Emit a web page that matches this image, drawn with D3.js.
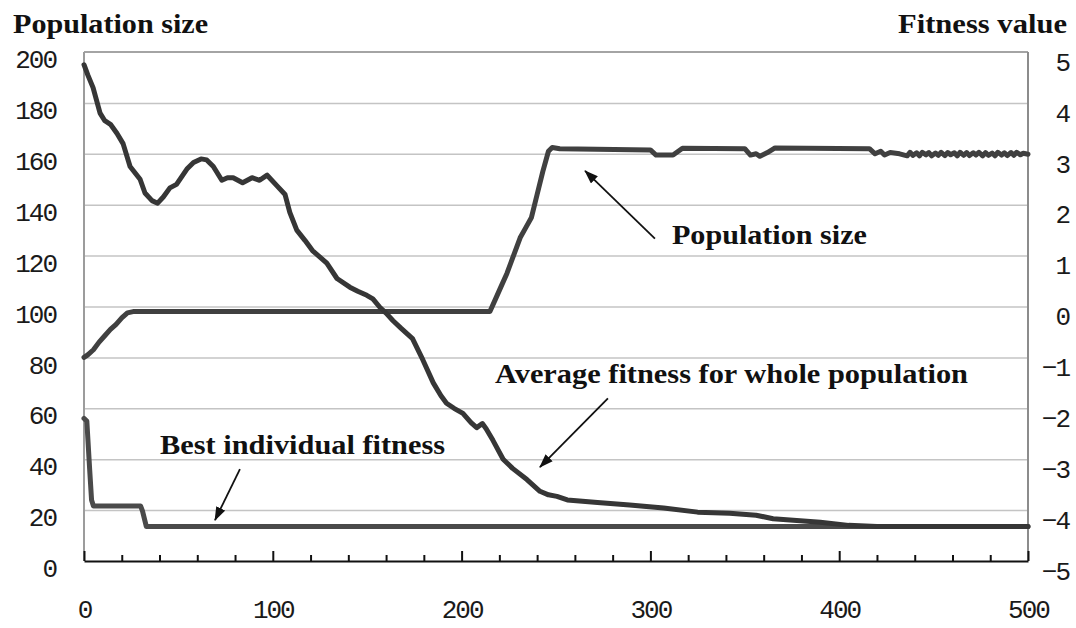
<!DOCTYPE html>
<html>
<head>
<meta charset="utf-8">
<script src="https://cdn.jsdelivr.net/npm/d3@7"></script>
<style>
  body { margin: 0; background: #fff; }
  svg { display: block; }
  .tick-label { font-family: "Liberation Mono", monospace; font-size: 26px; fill: #1a1a1a; letter-spacing: -2px; }
  .bold-label { font-family: "Liberation Serif", serif; font-weight: bold; font-size: 28px; fill: #111; }
</style>
</head>
<body>
<script>
// tick labels
var xTicks = [0, 100, 200, 300, 400, 500];
var xMinorTicks = [20, 40, 60, 80, 120, 140, 160, 180, 220, 240, 260, 280, 320, 340, 360, 380, 420, 440, 460, 480];
var leftTicks = [0, 20, 40, 60, 80, 100, 120, 140, 160, 180, 200];
var rightTicks = [-5, -4, -3, -2, -1, 0, 1, 2, 3, 4, 5];

// population size (left axis)
var popGen = [0, 2, 5, 8, 11, 14, 17, 20, 23, 26, 215, 218, 221, 224, 228, 231, 234, 237, 240, 243, 246, 248, 252, 300, 303, 312, 317, 350, 353, 356, 358, 362, 366, 416, 419, 422, 424, 427, 432,
  436, 437.5, 439, 441, 442.5, 444, 446, 447.5, 449, 451, 452.5, 454, 456, 457.5, 459, 461, 462.5, 464, 466, 467.5, 469, 471, 472.5, 474, 476, 477.5, 479, 481, 482.5, 484, 486, 487.5, 489, 491, 492.5, 494, 496, 497.5, 500];
var popSize = [80, 81, 83, 86, 88.5, 91, 93, 95.5, 97.5, 98, 98, 103, 108, 113, 121, 127, 131, 135, 144, 153, 161, 162.5, 162, 161.5, 159.5, 159.5, 162.2, 162, 159.5, 160, 159, 160.5, 162.3, 162, 160, 161, 159.5, 160.5, 160,
  159.2, 160.6, 159.4, 160.4, 159.2, 160.6, 159.6, 160.5, 159.2, 160.3, 159.4, 160.6, 159.3, 160.5, 159.6, 160.4, 159.2, 160.6, 159.4, 160.5, 159.3, 160.4, 159.5, 160.6, 159.2, 160.5, 159.4, 160.3, 159.2, 160.6, 159.5, 160.4, 159.3, 160.5, 159.4, 160.6, 159.6, 160.2, 159.8];

// average fitness for whole population (right axis)
var avgGen = [0, 2, 4.8, 8.5, 11, 14, 17.5, 20.7, 24.4, 29.7, 32.3, 36, 39, 42, 45.5, 49, 54.5, 58, 62, 65, 68.5, 73, 76, 79, 84, 89, 93, 97, 102, 106.5, 109, 112.7, 117, 121, 128.6, 134, 140.8, 145, 149.8, 153, 156.8, 160, 163.7, 168, 174, 179.5, 185, 189, 192, 196, 200.7, 205, 208, 211, 213, 216.6, 222, 227, 234.6, 241.5, 246, 250.5, 256, 272, 289, 307, 325, 342, 356, 365, 390, 405, 420, 500];
var avgFit = [4.75, 4.55, 4.30, 3.80, 3.65, 3.58, 3.40, 3.20, 2.75, 2.50, 2.23, 2.08, 2.03, 2.15, 2.33, 2.40, 2.70, 2.83, 2.90, 2.88, 2.75, 2.48, 2.53, 2.53, 2.43, 2.53, 2.48, 2.58, 2.38, 2.20, 1.85, 1.50, 1.30, 1.10, 0.85, 0.55, 0.38, 0.30, 0.22, 0.15, -0.02, -0.13, -0.28, -0.43, -0.63, -1.05, -1.50, -1.75, -1.90, -2.00, -2.10, -2.28, -2.38, -2.30, -2.40, -2.63, -3.00, -3.18, -3.40, -3.63, -3.70, -3.73, -3.80, -3.85, -3.90, -3.96, -4.04, -4.06, -4.10, -4.17, -4.24, -4.30, -4.32, -4.32];

// best individual fitness (right axis)
var bestGen = [0, 1.5, 3, 4, 5, 30, 31, 33, 500];
var bestFit = [-2.2, -2.25, -3.2, -3.8, -3.92, -3.92, -4.02, -4.32, -4.32];

var W = 1076, H = 628;
var plotL = 84, plotR = 1028, plotT = 52, plotB = 561;

var svg = d3.select('body').append('svg').attr('width', W).attr('height', H);
svg.append('rect').attr('width', W).attr('height', H).attr('fill', '#fff');

var x = d3.scaleLinear().domain([0, 500]).range([plotL, plotR]);
var yL = d3.scaleLinear().domain([0, 200]).range([plotB, plotT]);
var yR = d3.scaleLinear().domain([-5, 5]).range([plotB, plotT]);

// grid lines
svg.append('g')
  .attr('transform', 'translate(' + plotL + ',0)')
  .call(d3.axisLeft(yL).tickValues(leftTicks.slice(1, -1)).tickSize(-(plotR - plotL)).tickFormat(''))
  .call(function (g) {
    g.select('.domain').remove();
    g.selectAll('line').attr('stroke', '#c4c4c4').attr('stroke-width', 1.5);
  });

// frame
svg.append('line').attr('x1', plotL).attr('x2', plotR).attr('y1', plotT).attr('y2', plotT).attr('stroke', '#a4a4a4').attr('stroke-width', 2);
svg.append('line').attr('x1', plotR).attr('x2', plotR).attr('y1', plotT).attr('y2', plotB).attr('stroke', '#8c8c8c').attr('stroke-width', 2);
svg.append('line').attr('x1', plotL).attr('x2', plotL).attr('y1', plotT).attr('y2', plotB).attr('stroke', '#9c9c9c').attr('stroke-width', 2);

// left axis labels
svg.append('g')
  .attr('transform', 'translate(' + plotL + ',0)')
  .call(d3.axisLeft(yL).tickValues(leftTicks).tickSize(0).tickPadding(28))
  .call(function (g) {
    g.select('.domain').remove();
    g.selectAll('text').attr('class', 'tick-label').attr('dy', '0.6em');
  });

// right axis labels
svg.append('g')
  .attr('transform', 'translate(' + plotR + ',0)')
  .call(d3.axisRight(yR).tickValues(rightTicks).tickSize(0))
  .call(function (g) {
    g.select('.domain').remove();
    g.selectAll('text').attr('class', 'tick-label').attr('x', 41).attr('text-anchor', 'end').attr('dy', '0.7em');
  });

// bottom axis
svg.append('g')
  .attr('transform', 'translate(0,' + plotB + ')')
  .call(d3.axisBottom(x).tickValues(xMinorTicks).tickSize(-6).tickFormat(''))
  .call(function (g) {
    g.select('.domain').remove();
    g.selectAll('line').attr('stroke', '#111').attr('stroke-width', 2);
  });
svg.append('g')
  .attr('transform', 'translate(0,' + plotB + ')')
  .call(d3.axisBottom(x).tickValues(xTicks).tickSizeInner(-10).tickSizeOuter(0).tickPadding(49))
  .call(function (g) {
    g.select('.domain').attr('stroke', '#111').attr('stroke-width', 2);
    g.selectAll('line').attr('stroke', '#111').attr('stroke-width', 2);
    g.selectAll('text').attr('class', 'tick-label').attr('dy', '0.3em');
  });

// series
var lineL = d3.line().x(function (d) { return x(d[0]); }).y(function (d) { return yL(d[1]); });
var lineR = d3.line().x(function (d) { return x(d[0]); }).y(function (d) { return yR(d[1]); });

var series = [
  { pts: d3.zip(bestGen, bestFit), gen: lineR, color: '#4a4a4a' },
  { pts: d3.zip(popGen, popSize), gen: lineL, color: '#404040' },
  { pts: d3.zip(avgGen, avgFit), gen: lineR, color: '#363636' }
];
series.forEach(function (s) {
  svg.append('path')
    .attr('d', s.gen(s.pts))
    .attr('fill', 'none')
    .attr('stroke', s.color)
    .attr('stroke-width', 5)
    .attr('stroke-linejoin', 'round')
    .attr('stroke-linecap', 'round');
});

// titles
svg.append('text').attr('class', 'bold-label').attr('x', 13).attr('y', 33).attr('textLength', 195).attr('lengthAdjust', 'spacingAndGlyphs').text('Population size');
svg.append('text').attr('class', 'bold-label').attr('x', 898).attr('y', 33).attr('textLength', 169).attr('lengthAdjust', 'spacingAndGlyphs').text('Fitness value');

// annotations (positions in data units of generation / population size)
var defs = svg.append('defs');
defs.append('marker')
  .attr('id', 'head')
  .attr('markerUnits', 'userSpaceOnUse')
  .attr('viewBox', '0 0 14 10')
  .attr('refX', 13).attr('refY', 5)
  .attr('markerWidth', 14).attr('markerHeight', 10)
  .attr('orient', 'auto')
  .append('path').attr('d', 'M0,0 L14,5 L0,10 Z').attr('fill', '#111');

var notes = [
  { text: 'Population size', tx: 311.4, ty: 124.7, len: 195, from: [302.4, 126.7], to: [265.4, 153.3] },
  { text: 'Average fitness for whole population', tx: 217.7, ty: 69.8, len: 473, from: [277.5, 63.9], to: [241.5, 36.9] },
  { text: 'Best individual fitness', tx: 40.3, ty: 42, len: 285, from: [82.6, 36.1], to: [69.4, 16.1] }
];
notes.forEach(function (n) {
  svg.append('text').attr('class', 'bold-label')
    .attr('x', x(n.tx)).attr('y', yL(n.ty))
    .attr('textLength', n.len).attr('lengthAdjust', 'spacingAndGlyphs')
    .text(n.text);
  svg.append('line')
    .attr('x1', x(n.from[0])).attr('y1', yL(n.from[1]))
    .attr('x2', x(n.to[0])).attr('y2', yL(n.to[1]))
    .attr('stroke', '#111').attr('stroke-width', 1.8)
    .attr('marker-end', 'url(#head)');
});
</script>
</body>
</html>
